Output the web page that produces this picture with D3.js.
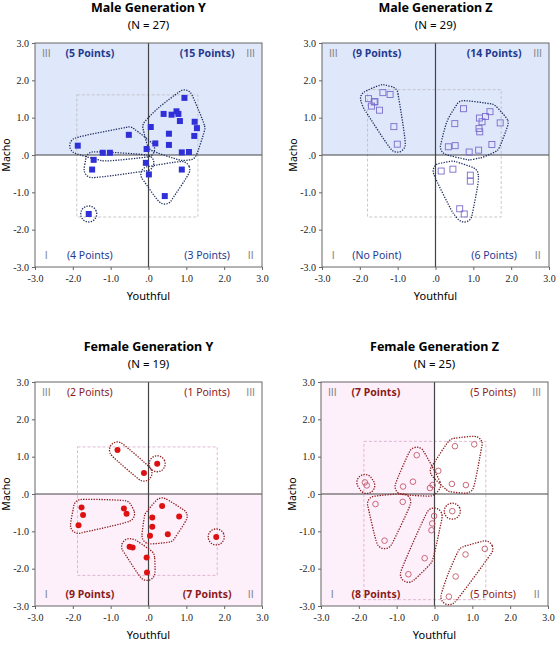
<!DOCTYPE html>
<html><head><meta charset="utf-8">
<script src="https://cdn.jsdelivr.net/npm/d3@7"></script>
<style>body{margin:0;background:#fff}</style></head>
<body><svg id="c" width="559" height="649"></svg>
<script>
const titles=["Male Generation Y","Male Generation Z","Female Generation Y","Female Generation Z"];
const nLabels=["(N = 27)","(N = 29)","(N = 19)","(N = 25)"];
const quadLabels=[
 ["(5 Points)","(15 Points)","(4 Points)","(3 Points)"],
 ["(9 Points)","(14 Points)","(No Point)","(6 Points)"],
 ["(2 Points)","(1 Points)","(9 Points)","(7 Points)"],
 ["(7 Points)","(5 Points)","(8 Points)","(5 Points)"]];
const quadBold=[[1,1,0,0],[1,1,0,0],[0,0,1,1],[1,0,1,0]];
const ticks=[-3,-2,-1,0,1,2,3];
const tickLabels=["-3.0","-2.0","-1.0",".0","1.0","2.0","3.0"];
// Male Y
const mY_x=[-1.87,-0.52,-1.21,-1.02,-0.05,-0.07,0.01,-1.45,-1.49,-1.58,0.06,0.18,0.40,0.61,0.74,0.79,0.83,0.95,0.54,0.54,0.88,1.07,1.22,1.28,1.21,0.88,0.43];
const mY_y=[0.25,0.54,0.06,0.06,0.16,-0.21,-0.52,-0.13,-0.39,-1.58,0.75,0.31,1.10,1.08,1.17,1.10,0.91,1.53,0.57,0.27,0.07,0.08,0.89,0.72,0.51,-0.39,-1.10];
const mY_g=[1,1,1,1,1,2,3,2,2,4,0,0,0,0,0,0,0,0,0,0,0,0,0,0,0,3,3];
// Male Z
const mZ_x=[-1.77,-1.69,-1.62,-1.60,-1.48,-1.39,-1.20,-1.10,-1.01,0.34,0.52,0.51,0.74,0.89,1.14,1.16,1.15,1.17,1.23,1.32,1.44,1.49,1.71,0.15,0.46,0.92,0.92,0.64,0.76];
const mZ_y=[1.51,1.31,1.42,1.43,1.20,1.67,1.62,0.76,0.29,0.22,0.25,0.84,1.24,0.08,0.13,0.99,0.71,0.62,0.89,1.03,1.16,0.28,0.86,-0.43,-0.38,-0.54,-0.70,-1.44,-1.58];
const mZ_g=[0,0,0,0,0,0,0,0,0,1,1,1,1,1,1,1,1,1,1,1,1,1,1,2,2,2,2,2,2];
// Female Y
const fY_x=[-0.82,-0.12,0.23,-1.77,-1.73,-1.85,-0.65,-0.58,0.36,0.10,0.10,0.04,0.51,0.81,1.79,-0.50,-0.42,-0.05,-0.04];
const fY_y=[1.18,0.56,0.81,-0.36,-0.56,-0.84,-0.39,-0.53,-0.32,-0.63,-0.88,-1.12,-1.08,-0.60,-1.15,-1.41,-1.43,-1.70,-2.10];
const fY_g=[0,0,1,2,2,2,2,2,3,3,3,3,3,3,4,5,5,5,5];
// Female Z
const fZ_x=[-1.84,-1.79,-0.83,-0.57,-0.47,-0.12,-0.05,0.10,0.54,1.05,0.46,0.83,-1.56,-0.84,-1.32,-0.01,-0.06,-0.08,-0.26,-0.69,0.47,0.82,1.33,0.56,0.38];
const fZ_y=[0.31,0.23,0.20,0.33,1.04,0.16,0.24,0.62,1.28,1.33,0.27,0.24,-0.27,-0.21,-1.25,-0.59,-0.79,-0.97,-1.72,-2.15,-0.46,-1.62,-1.47,-2.21,-2.75];
const fZ_g=[0,0,1,1,1,1,1,2,2,2,2,2,3,3,3,4,4,4,4,4,5,6,6,6,6];

const panels=[
 {ox:35,oy:43,xs:mY_x,ys:mY_y,gs:mY_g,shade:"top",shadeC:"#dfe7fb",lab:"#1f3a8f",pt:"#3030d8",sym:"sq",fill:true,ell:"#1f2f5f"},
 {ox:322,oy:43,xs:mZ_x,ys:mZ_y,gs:mZ_g,shade:"top",shadeC:"#dfe7fb",lab:"#1f3a8f",pt:"#7a6ccc",sym:"sq",fill:false,ell:"#1f2f5f"},
 {ox:35,oy:382,xs:fY_x,ys:fY_y,gs:fY_g,shade:"bottom",shadeC:"#fdf0fb",lab:"#8b1a1a",pt:"#dd1111",sym:"ci",fill:true,ell:"#8b1a1a"},
 {ox:321,oy:382,xs:fZ_x,ys:fZ_y,gs:fZ_g,shade:"left",shadeC:"#fdf0fb",lab:"#8b1a1a",pt:"#c05a6a",sym:"ci",fill:false,ell:"#8b1a1a"}];
const W=227,H=224;
const svg=d3.select("#c");
panels.forEach((p,i)=>{
 const g=svg.append("g").attr("transform",`translate(${p.ox},${p.oy})`);
 const x=d3.scaleLinear().domain([-3,3]).range([0,W]);
 const y=d3.scaleLinear().domain([-3,3]).range([H,0]);
 if(p.shade==="top") g.append("rect").attr("x",0).attr("y",0).attr("width",W).attr("height",y(0)).attr("fill",p.shadeC);
 if(p.shade==="bottom") g.append("rect").attr("x",0).attr("y",y(0)).attr("width",W).attr("height",H-y(0)).attr("fill",p.shadeC);
 if(p.shade==="left") g.append("rect").attr("x",0).attr("y",0).attr("width",x(0)).attr("height",H).attr("fill",p.shadeC);
 const ex=d3.extent(p.xs), ey=d3.extent(p.ys);
 g.append("rect").attr("x",x(ex[0])-1).attr("y",y(ey[1])-3).attr("width",x(ex[1])-x(ex[0])+2).attr("height",y(ey[0])-y(ey[1])+6)
  .attr("fill","none").attr("stroke",i<2?"#bbbbbb":"#d8a8c8").attr("stroke-dasharray","3,2").attr("stroke-width",0.8);
 g.append("line").attr("x1",x(0)).attr("x2",x(0)).attr("y1",0).attr("y2",H).attr("stroke","#444").attr("stroke-width",1.2);
 g.append("line").attr("x1",0).attr("x2",W).attr("y1",y(0)).attr("y2",y(0)).attr("stroke","#444").attr("stroke-width",1.2);
 g.append("rect").attr("width",W).attr("height",H).attr("fill","none").attr("stroke","#666").attr("stroke-width",1);
 const ng=d3.max(p.gs)+1;
 for(let k=0;k<ng;k++){
  const pts=[];
  p.xs.forEach((v,j)=>{ if(p.gs[j]===k){ for(let a=0;a<16;a++){const t=a/16*2*Math.PI; pts.push([x(v)+8*Math.cos(t),y(p.ys[j])+8*Math.sin(t)]);} } });
  const hull=d3.polygonHull(pts);
  g.append("path").attr("d",d3.line().curve(d3.curveCatmullRomClosed.alpha(0.5))(hull))
   .attr("fill","none").attr("stroke",p.ell).attr("stroke-width",1.3).attr("stroke-dasharray","1.3,1.3");
 }
 p.xs.forEach((v,j)=>{
  if(p.sym==="sq") g.append("rect").attr("x",x(v)-3).attr("y",y(p.ys[j])-3).attr("width",6).attr("height",6)
    .attr("fill",p.fill?p.pt:"none").attr("stroke",p.pt).attr("stroke-width",p.fill?0:0.9);
  else g.append("circle").attr("cx",x(v)).attr("cy",y(p.ys[j])).attr("r",p.fill?3:2.8)
    .attr("fill",p.fill?p.pt:"none").attr("stroke",p.pt).attr("stroke-width",p.fill?0:0.9);
 });
 const xa=g.append("g").attr("transform",`translate(0,${H})`).call(d3.axisBottom(x).tickValues(ticks).tickFormat((d,k)=>tickLabels[k]).tickSize(3));
 const ya=g.append("g").call(d3.axisLeft(y).tickValues(ticks).tickFormat((d,k)=>tickLabels[k]).tickSize(3));
 [xa,ya].forEach(a=>{a.select(".domain").remove();a.selectAll("line").attr("stroke","#666");a.selectAll("text").attr("font-family","Liberation Serif").attr("font-size",10).attr("fill","#222");});
 xa.selectAll("text").attr("dy","0.9em");
 const qpos=[[x(-1.55),14],[x(1.55),14],[x(-1.55),H-8],[x(1.55),H-8]];
 qpos.forEach((q,k)=>g.append("text").attr("x",q[0]).attr("y",q[1]).attr("text-anchor","middle")
  .attr("font-family","Noto Sans").attr("font-size",10.5).attr("font-weight",quadBold[i][k]?"bold":"normal").attr("fill",p.lab).text(quadLabels[i][k]));
 const rom=[["III",x(-2.7),14],["III",x(2.7),14],["I",x(-2.7),H-8],["II",x(2.7),H-8]];
 rom.forEach(r=>g.append("text").attr("x",r[1]).attr("y",r[2]).attr("text-anchor","middle").attr("font-family","DejaVu Sans").attr("font-size",10).attr("fill","#888").text(r[0]));
 g.append("text").attr("x",W/2).attr("y",-31).attr("text-anchor","middle").attr("font-family","Noto Sans").attr("font-weight","bold").attr("font-size",12.5).text(titles[i]);
 g.append("text").attr("x",W/2).attr("y",-14).attr("text-anchor","middle").attr("font-family","Noto Sans").attr("font-size",11.5).text(nLabels[i]);
 g.append("text").attr("x",W/2).attr("y",H+33).attr("text-anchor","middle").attr("font-family","Noto Sans").attr("font-size",11).text("Youthful");
 g.append("text").attr("transform",`translate(-25,${H/2}) rotate(-90)`).attr("text-anchor","middle").attr("font-family","Noto Sans").attr("font-size",10.5).text("Macho");
});
</script></body></html>
